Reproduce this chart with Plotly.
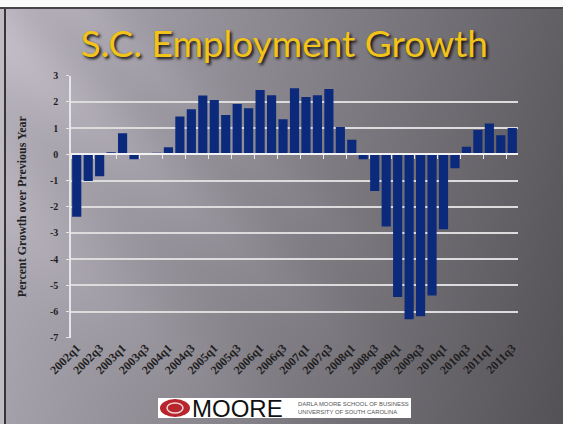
import base64, struct, zlib
import numpy as np
import plotly.graph_objects as go

W, H = 563, 424

quarters = [f"{y}q{q}" for y in range(2002, 2012) for q in range(1, 5)][:39]
growth = [-2.38, -1.02, -0.84, 0.08, 0.80, -0.19, 0.00, 0.05, 0.27, 1.44,
          1.72, 2.24, 2.07, 1.50, 1.92, 1.76, 2.45, 2.25, 1.34, 2.52,
          2.19, 2.25, 2.49, 1.04, 0.56, -0.19, -1.40, -2.76, -5.45, -6.30,
          -6.18, -5.39, -2.86, -0.53, 0.29, 0.93, 1.18, 0.73, 1.00]
tick_labels = quarters[::2]
y_ticks = [3, 2, 1, 0, -1, -2, -3, -4, -5, -6, -7]


def px(x):
    return x / W


def py(y):
    return 1 - y / H


# ---- background slide (gradient with diagonal light streaks) ----
def make_bg():
    yy, xx = np.mgrid[0:H, 0:W].astype(float)
    v = 180 - 82 * (xx / W) - 14 * (yy / H)
    d = (yy - 0.85 * xx)
    v += 16 * np.exp(-((d - 40) / 45) ** 2) * np.clip(1 - xx / 420, 0, 1)
    v += 10 * np.exp(-((d + 60) / 30) ** 2) * np.clip(1 - xx / 480, 0, 1)
    v += 12 * np.exp(-((d - 200) / 60) ** 2) * np.clip(1 - xx / 300, 0, 1)
    v = np.clip(v, 0, 255)
    img = np.stack([v * 1.0, v * 0.975, v * 1.03], axis=-1)
    img = np.clip(img, 0, 255).astype(np.uint8)
    img[:7, :, :] = 250
    img[7:9, :, :] = [70, 68, 72]
    img[9:, :4, :] = [190, 188, 192]
    img[9:, 4:6, :] = [55, 53, 58]
    return img


def png_uri(arr):
    h, w, _ = arr.shape
    raw = b"".join(b"\x00" + arr[r].tobytes() for r in range(h))

    def chunk(tag, data):
        c = struct.pack(">I", len(data)) + tag + data
        return c + struct.pack(">I", zlib.crc32(tag + data) & 0xFFFFFFFF)

    png = b"\x89PNG\r\n\x1a\n"
    png += chunk(b"IHDR", struct.pack(">IIBBBBB", w, h, 8, 2, 0, 0, 0))
    png += chunk(b"IDAT", zlib.compress(raw, 9))
    png += chunk(b"IEND", b"")
    return "data:image/png;base64," + base64.b64encode(png).decode()


bg = png_uri(make_bg())

y_dom = [py(337.7), py(75.7)]
x_dom = [px(71), px(518)]
zero_pos = y_dom[0] + (0 - (-7)) / 10 * (y_dom[1] - y_dom[0])

fig = go.Figure()
fig.add_trace(go.Bar(x=quarters, y=growth, marker=dict(color="#0b2a7c", line_width=0),
                     showlegend=False, hoverinfo="x+y"))
fig.add_trace(go.Scatter(x=quarters, y=[0] * len(quarters), xaxis="x2", yaxis="y",
                         mode="none", showlegend=False, hoverinfo="skip"))

serif = "Liberation Serif, Times New Roman, serif"

fig.update_layout(
    width=W, height=H,
    margin=dict(l=0, r=0, t=0, b=0, autoexpand=False),
    paper_bgcolor="#8a878d",
    plot_bgcolor="rgba(0,0,0,0)",
    bargap=0.2,
    images=[dict(source=bg, xref="paper", yref="paper", x=0, y=1, sizex=1, sizey=1,
                 xanchor="left", yanchor="top", sizing="stretch", layer="below")],
    xaxis=dict(domain=x_dom, type="category", categoryarray=quarters, automargin=False,
               range=[-0.5, len(quarters) - 0.5], tickmode="array",
               tickvals=tick_labels, ticktext=tick_labels, tickangle=-45,
               tickfont=dict(family=serif, size=12, color="#1e1e1e", weight="bold"),
               showgrid=False, zeroline=False, showline=False, ticks="", ticklen=0),
    xaxis2=dict(domain=x_dom, type="category", categoryarray=quarters, automargin=False,
                range=[-0.5, len(quarters) - 0.5], overlaying="x", anchor="free",
                position=zero_pos, side="bottom", showticklabels=False,
                ticks="outside", tickson="boundaries", ticklen=4, tickwidth=1,
                tickcolor="#e8e8e8", showline=True, linecolor="#f2f2f2", linewidth=1.5,
                showgrid=False, zeroline=False),
    yaxis=dict(domain=y_dom, range=[-7, 3], tickmode="array", tickvals=y_ticks,
               automargin=False, ticktext=[str(t) for t in y_ticks],
               tickfont=dict(family=serif, size=10, color="#1e1e1e", weight="bold"),
               showgrid=True, gridcolor="#dcdcdc", gridwidth=1.5,
               zeroline=False, showline=True, linecolor="#e6e6e6", linewidth=1.5,
               ticks="outside", ticklen=3, tickcolor="#e6e6e6", ticklabelstandoff=6,
               title=dict(text="Percent Growth over Previous Year",
                          font=dict(family=serif, size=12, color="#222222", weight="bold"),
                          standoff=21)),
    title=dict(text="S.C. Employment Growth", x=0.505, xanchor="center", y=py(44),
               yanchor="middle", automargin=False,
               font=dict(family="Lato, Open Sans, sans-serif", size=37, color="#f2c318",
                         shadow="2px 2px 3px #111")),
)

# logo block
fig.add_shape(type="rect", xref="paper", yref="paper", x0=px(158), x1=px(411),
              y0=py(418), y1=py(398), fillcolor="#ffffff", line_width=0, layer="above")
fig.add_shape(type="circle", xref="paper", yref="paper", x0=px(160), x1=px(190),
              y0=py(417), y1=py(399), fillcolor="#b7262c", line_width=0, layer="above")
fig.add_shape(type="circle", xref="paper", yref="paper", x0=px(167), x1=px(183),
              y0=py(413), y1=py(403), fillcolor="rgba(0,0,0,0)",
              line=dict(color="#f3d6d6", width=1.5), layer="above")
fig.add_annotation(text="MOORE", xref="paper", yref="paper", x=px(190), y=py(408.5),
                   xanchor="left", yanchor="middle", showarrow=False,
                   font=dict(family="Liberation Sans, Arial, sans-serif", size=24, color="#111111"))
fig.add_annotation(text="DARLA MOORE SCHOOL OF BUSINESS<br>UNIVERSITY OF SOUTH CAROLINA",
                   xref="paper", yref="paper", x=px(296), y=py(408), xanchor="left",
                   yanchor="middle", showarrow=False, align="left",
                   font=dict(family="Liberation Sans, sans-serif", size=5.9, color="#555555"))

fig.write_html("out.html", config={"displayModeBar": False},
               post_script="document.body.style.margin='0';document.body.style.overflow='hidden';")
